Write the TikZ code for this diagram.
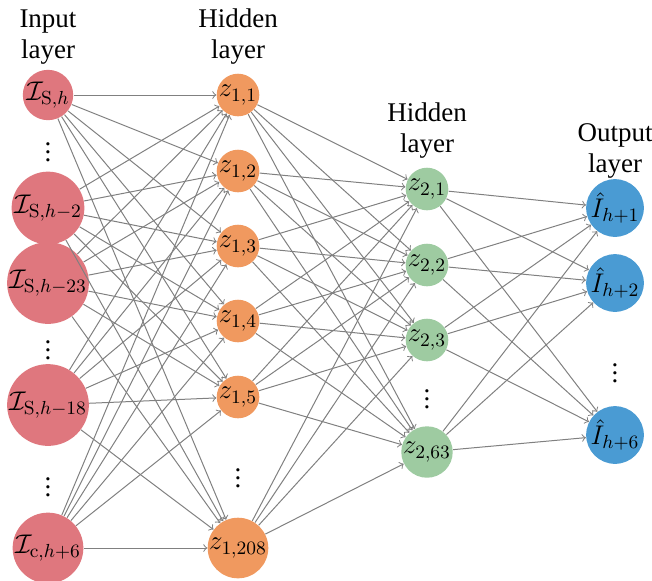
\RequirePackage{fix-cm}
\documentclass[tikz,border=0pt]{standalone}
\usepackage[no-math]{fontspec}
\setmainfont{Liberation Serif}
\definecolor{inred}{HTML}{DF777E}
\definecolor{hidorange}{HTML}{F0995F}
\definecolor{hidgreen}{HTML}{9ECBA1}
\definecolor{outblue}{HTML}{4A9BD3}

\begin{document}
\begin{tikzpicture}[x=0.5pt,y=-0.5pt]
\tikzstyle{every node}+=[inner sep=0pt, font=\fontsize{13.5}{15.5}\selectfont]
\tikzstyle{neuron}=[circle, inner sep=0pt]
\tikzstyle{edge}=[draw=gray, line width=0.5pt, ->]
\useasboundingbox (0,0) rectangle (652,580);
% layer titles
\draw (48,37) node [align=center] {Input\\layer};
\draw (238,37) node [align=center] {Hidden\\layer};
\draw (427,131) node [align=center] {Hidden\\layer};
\draw (615,151) node [align=center] {Output\\layer};
% input layer
\node [neuron, fill=inred] (i1) at (48,95) {$\mathcal{I}_{\mathrm{S},h}$};
\node at (48,146) {$\vdots$};
\node [neuron, fill=inred] (i2) at (48,208) {$\mathcal{I}_{\mathrm{S},h-2}$};
\node [neuron, fill=inred] (i3) at (48,283) {$\mathcal{I}_{\mathrm{S},h-23}$};
\node at (48,344) {$\vdots$};
\node [neuron, fill=inred] (i4) at (48,405) {$\mathcal{I}_{\mathrm{S},h-18}$};
\node at (48,481) {$\vdots$};
\node [neuron, fill=inred] (i5) at (48,548) {$\mathcal{I}_{\mathrm{c},h+6}$};
% first hidden layer
\node [neuron, fill=hidorange] (ha1) at (238,95) {$z_{1,1}$};
\node [neuron, fill=hidorange] (ha2) at (238,171) {$z_{1,2}$};
\node [neuron, fill=hidorange] (ha3) at (238,246) {$z_{1,3}$};
\node [neuron, fill=hidorange] (ha4) at (238,321) {$z_{1,4}$};
\node [neuron, fill=hidorange] (ha5) at (238,397) {$z_{1,5}$};
\node at (238,472) {$\vdots$};
\node [neuron, fill=hidorange] (ha6) at (238,548) {$z_{1,208}$};
% second hidden layer
\node [neuron, fill=hidgreen] (hb1) at (427,189) {$z_{2,1}$};
\node [neuron, fill=hidgreen] (hb2) at (427,265) {$z_{2,2}$};
\node [neuron, fill=hidgreen] (hb3) at (427,340) {$z_{2,3}$};
\node at (427,393) {$\vdots$};
\node [neuron, fill=hidgreen] (hb4) at (427,452) {$z_{2,63}$};
% output layer
\node [neuron, fill=outblue] (o1) at (615,208) {$\hat{I}_{h+1}$};
\node [neuron, fill=outblue] (o2) at (615,283) {$\hat{I}_{h+2}$};
\node at (615,367) {$\vdots$};
\node [neuron, fill=outblue] (o3) at (615,435) {$\hat{I}_{h+6}$};
% connections
\draw [edge] (i1) edge (ha1) edge (ha2) edge (ha3) edge (ha4) edge (ha5) edge (ha6);
\draw [edge] (i2) edge (ha1) edge (ha2) edge (ha3) edge (ha4) edge (ha5) edge (ha6);
\draw [edge] (i3) edge (ha1) edge (ha2) edge (ha3) edge (ha4) edge (ha5) edge (ha6);
\draw [edge] (i4) edge (ha1) edge (ha2) edge (ha3) edge (ha4) edge (ha5) edge (ha6);
\draw [edge] (i5) edge (ha1) edge (ha2) edge (ha3) edge (ha4) edge (ha5) edge (ha6);
\draw [edge] (ha1) edge (hb1) edge (hb2) edge (hb3) edge (hb4);
\draw [edge] (ha2) edge (hb1) edge (hb2) edge (hb3) edge (hb4);
\draw [edge] (ha3) edge (hb1) edge (hb2) edge (hb3) edge (hb4);
\draw [edge] (ha4) edge (hb1) edge (hb2) edge (hb3) edge (hb4);
\draw [edge] (ha5) edge (hb1) edge (hb2) edge (hb3) edge (hb4);
\draw [edge] (ha6) edge (hb1) edge (hb2) edge (hb3) edge (hb4);
\draw [edge] (hb1) edge (o1) edge (o2) edge (o3);
\draw [edge] (hb2) edge (o1) edge (o2) edge (o3);
\draw [edge] (hb3) edge (o1) edge (o2) edge (o3);
\draw [edge] (hb4) edge (o1) edge (o2) edge (o3);
\end{tikzpicture}
\end{document}
